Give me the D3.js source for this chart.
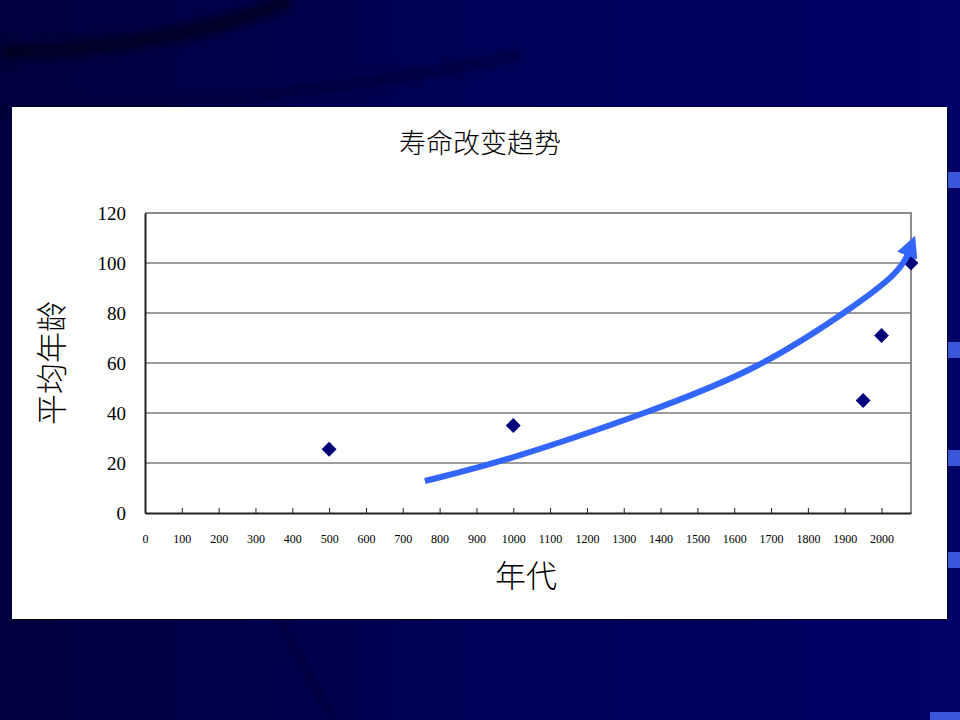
<!DOCTYPE html>
<html>
<head>
<meta charset="utf-8">
<script src="https://cdn.jsdelivr.net/npm/d3@7"></script>
<style>
  html, body { margin: 0; padding: 0; background: #000050; }
  svg { display: block; }
</style>
</head>
<body>
<svg width="960" height="720"></svg>
<script>
// data
var years = [500, 1000, 1950, 2000, 2080];
var ages = [25.5, 35, 45, 71, 100];
var xTicks = [0, 100, 200, 300, 400, 500, 600, 700, 800, 900, 1000, 1100, 1200, 1300, 1400, 1500, 1600, 1700, 1800, 1900, 2000];
var yTicks = [0, 20, 40, 60, 80, 100, 120];
// trend arrow drawn on top of the chart, in data units
var arrowX = [760, 990, 1362, 1669, 1940, 2035, 2066, 2074];
var arrowY = [12.8, 21.2, 40, 57.5, 84, 95, 101.5, 104.5];

var title = '寿命改变趋势';
var xTitle = '年代';
var yTitle = '平均年龄';

var svg = d3.select('svg');
var defs = svg.append('defs');

// slide background
var bg = defs.append('linearGradient').attr('id', 'bg').attr('x1', 0).attr('y1', 0).attr('x2', 1).attr('y2', 0);
bg.append('stop').attr('offset', 0).attr('stop-color', '#00003e');
bg.append('stop').attr('offset', 0.5).attr('stop-color', '#000058');
bg.append('stop').attr('offset', 1).attr('stop-color', '#000066');
svg.append('rect').attr('width', 960).attr('height', 720).attr('fill', 'url(#bg)');

var blur = defs.append('filter').attr('id', 'soft').attr('x', -0.2).attr('y', -0.5).attr('width', 1.4).attr('height', 2);
blur.append('feGaussianBlur').attr('stdDeviation', 4);

// dark swooshes of the slide template
svg.append('path').attr('d', 'M0,52 C120,50 220,30 290,0')
  .attr('stroke', '#000020').attr('stroke-width', 16).attr('fill', 'none').attr('filter', 'url(#soft)').attr('opacity', 0.9);
svg.append('path').attr('d', 'M0,112 C200,105 380,85 520,55')
  .attr('stroke', '#000030').attr('stroke-width', 10).attr('fill', 'none').attr('filter', 'url(#soft)').attr('opacity', 0.6);
svg.append('path').attr('d', 'M280,620 C300,660 320,700 335,720')
  .attr('stroke', '#00002a').attr('stroke-width', 8).attr('fill', 'none').attr('filter', 'url(#soft)').attr('opacity', 0.6);

// blue marks at right edge
var edgeY = [180, 350, 458, 560];
svg.selectAll('rect.edge').data(edgeY).enter().append('rect')
  .attr('class', 'edge').attr('x', 948).attr('width', 12).attr('y', function(d){ return d - 8; }).attr('height', 16)
  .attr('fill', '#3a55d8');
svg.append('rect').attr('x', 930).attr('y', 712).attr('width', 30).attr('height', 8).attr('fill', '#3a55d8');

// white chart panel
svg.append('rect').attr('x', 13).attr('y', 108).attr('width', 935).attr('height', 512).attr('fill', '#000010');
svg.append('rect').attr('x', 12).attr('y', 107).attr('width', 935).attr('height', 512).attr('fill', '#ffffff');

var x = d3.scaleLinear().domain([0, 2080]).range([145, 911]);
var y = d3.scaleLinear().domain([0, 120]).range([513, 213]);

// gridlines
svg.append('g').selectAll('line').data(yTicks.filter(function(d){ return d > 0 && d < 120; })).enter().append('line')
  .attr('x1', x(0)).attr('x2', x(2080)).attr('y1', function(d){ return y(d); }).attr('y2', function(d){ return y(d); })
  .attr('stroke', '#3a3a3a').attr('stroke-width', 1.2);

// top and right border
svg.append('path').attr('d', 'M' + x(0) + ',' + y(120) + 'H' + x(2080) + 'V' + y(0))
  .attr('stroke', '#8c8c8c').attr('stroke-width', 2).attr('fill', 'none');

// x axis
var xAxis = d3.axisBottom(x).tickValues(xTicks).tickFormat(d3.format('d')).tickSize(-5).tickPadding(21).tickSizeOuter(0);
var gx = svg.append('g').attr('transform', 'translate(0,' + y(0) + ')').call(xAxis);
gx.select('.domain').attr('stroke', '#222').attr('stroke-width', 2);
gx.selectAll('.tick line').attr('stroke', '#222');
gx.selectAll('text').attr('font-family', '"Liberation Serif", "DejaVu Serif", serif').attr('font-size', 12).attr('fill', '#000');

// y axis
var yAxis = d3.axisLeft(y).tickValues(yTicks).tickSize(0).tickPadding(19);
var gy = svg.append('g').attr('transform', 'translate(' + x(0) + ',0)').call(yAxis);
gy.select('.domain').attr('stroke', '#222').attr('stroke-width', 2);
gy.selectAll('text').attr('font-family', '"Liberation Serif", "DejaVu Serif", serif').attr('font-size', 19).attr('fill', '#000');

// titles
svg.append('text').attr('x', 480).attr('y', 153).attr('text-anchor', 'middle')
  .attr('font-family', '"Noto Sans CJK SC", sans-serif').attr('font-weight', 300).attr('font-size', 27).attr('fill', '#000')
  .text(title);
svg.append('text').attr('x', 526).attr('y', 587).attr('text-anchor', 'middle')
  .attr('font-family', '"Noto Sans CJK SC", sans-serif').attr('font-weight', 300).attr('font-size', 31).attr('fill', '#000')
  .text(xTitle);
svg.append('text').attr('transform', 'translate(63,363) rotate(-90)').attr('text-anchor', 'middle')
  .attr('font-family', '"Noto Sans CJK SC", sans-serif').attr('font-weight', 300).attr('font-size', 31).attr('fill', '#000')
  .text(yTitle);

// points
svg.append('g').selectAll('path').data(years).enter().append('path')
  .attr('d', d3.symbol().type(d3.symbolSquare).size(110))
  .attr('transform', function(d, i){ return 'translate(' + x(d) + ',' + y(ages[i]) + ') rotate(45)'; })
  .attr('fill', '#00007a');

// trend arrow
defs.append('marker').attr('id', 'head').attr('viewBox', '0 0 10 10').attr('refX', 2).attr('refY', 5)
  .attr('markerWidth', 3.6).attr('markerHeight', 3.6).attr('orient', 'auto')
  .append('path').attr('d', 'M0,0 L10,5 L0,10 Z').attr('fill', '#3366ff');
var arrowLine = d3.line().x(function(d){ return x(d[0]); }).y(function(d){ return y(d[1]); }).curve(d3.curveBasis);
svg.append('path').datum(d3.zip(arrowX, arrowY))
  .attr('d', arrowLine).attr('fill', 'none').attr('stroke', '#3366ff').attr('stroke-width', 6)
  .attr('marker-end', 'url(#head)');
</script>
</body>
</html>
